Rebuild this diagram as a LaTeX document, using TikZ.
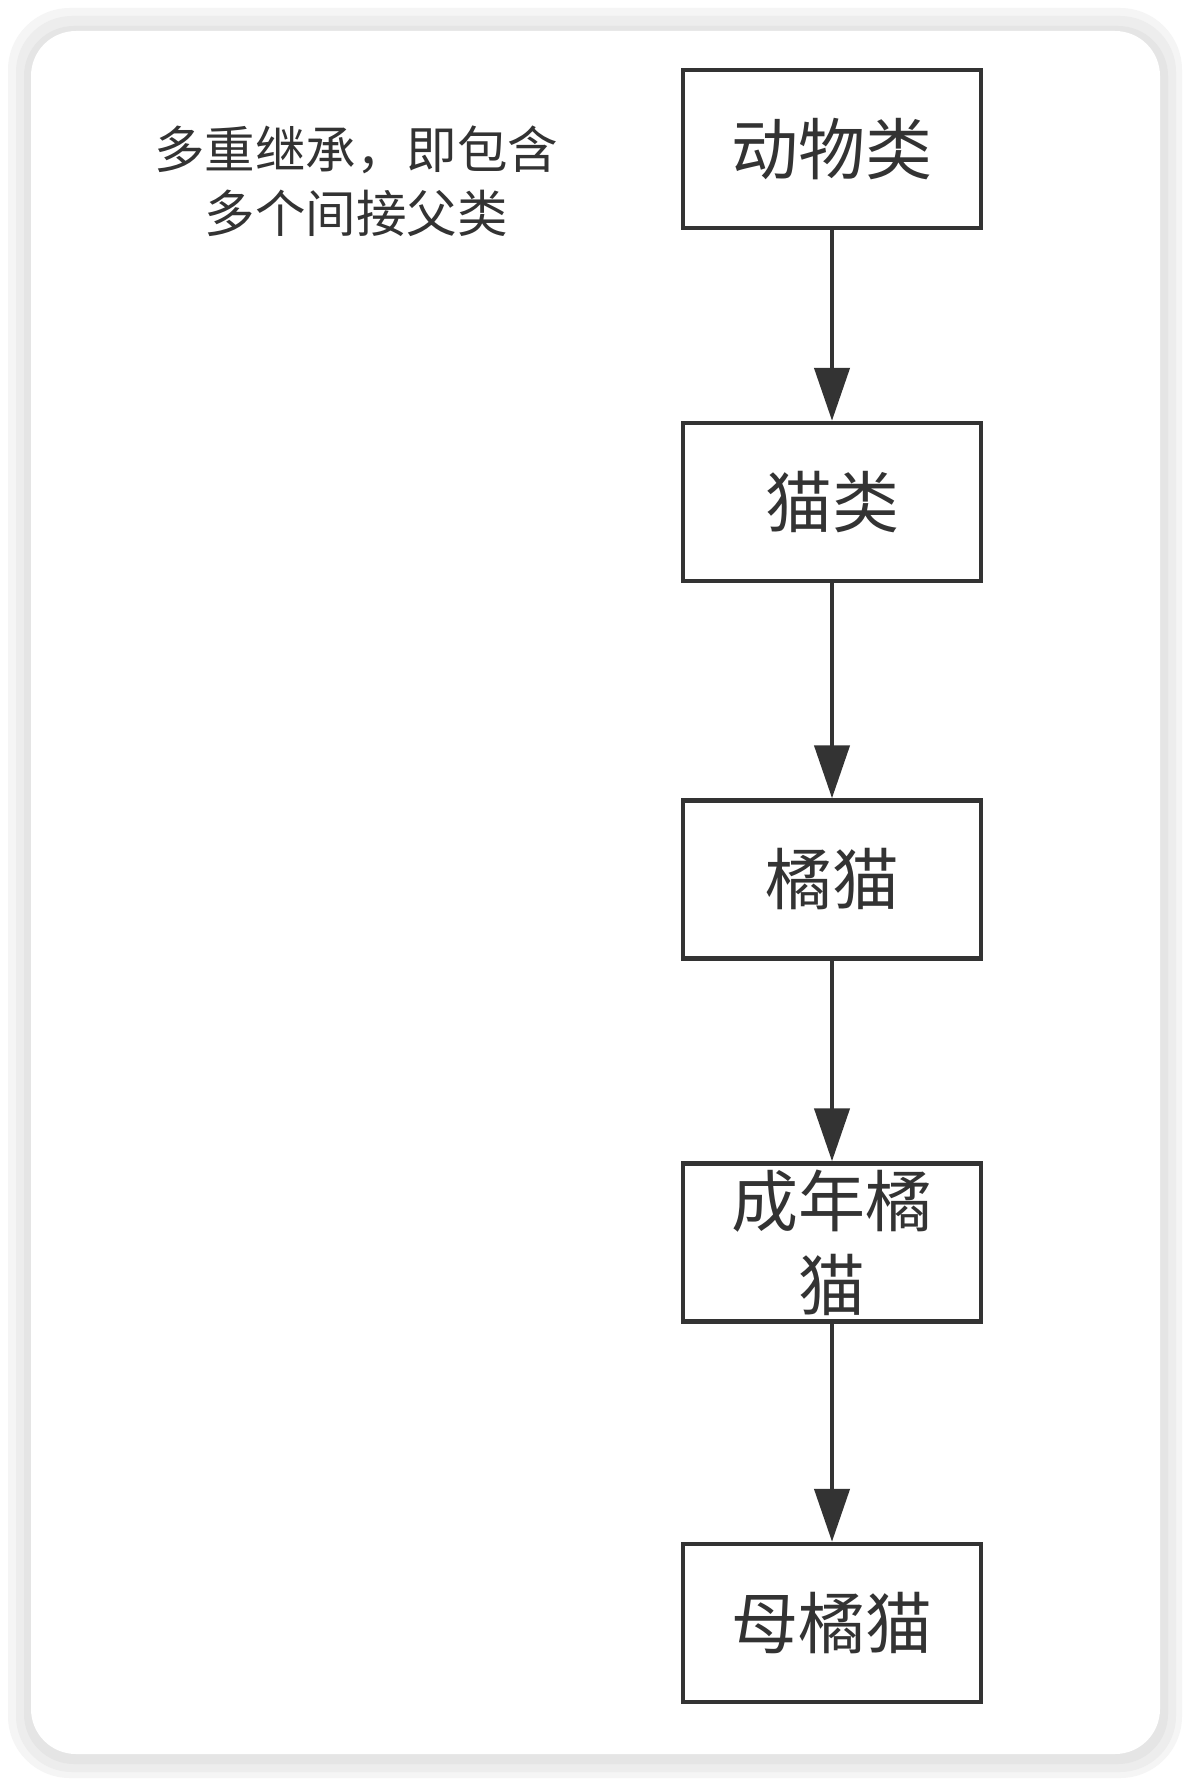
\documentclass[tikz,border=0pt]{standalone}
\usepackage{fontspec}
\newfontfamily\cjk{Noto Sans CJK SC}
\usetikzlibrary{arrows.meta}
\definecolor{ink}{HTML}{333333}
\tikzset{
  classbox/.style={draw=ink, line width=4.5pt, fill=white, minimum width=298pt, minimum height=158pt, inner sep=0pt, text=ink, font=\cjk\fontsize{67pt}{84pt}\selectfont, align=center},
  inherit/.style={draw=ink, line width=4.5pt, -{Triangle[length=53pt,width=35pt]}, fill=ink},
}
\begin{document}
\begin{tikzpicture}[x=1pt,y=-1pt]
\useasboundingbox (0,0) rectangle (1190,1784);
\fill[white] (0,0) rectangle (1190,1784);
% card shadow
\fill[black!4, rounded corners=62pt] (8,8) rectangle (1182,1778);
\fill[black!7, rounded corners=56pt] (16,16) rectangle (1176,1772);
\fill[black!10, rounded corners=50pt] (24,26) rectangle (1168,1764);
\fill[white, rounded corners=45pt] (31,31) rectangle (1160,1754);
% caption
\node[text=ink, font=\cjk\fontsize{50.5pt}{64pt}\selectfont, align=center] (cap) at (356,181) {多重继承，即包含\\多个间接父类};
% boxes
\node[classbox] (b1) at (832,149) {动物类};
\node[classbox] (b2) at (832,502) {猫类};
\node[classbox] (b3) at (832,879.5) {橘猫};
\node[classbox] (b4) at (832,1242.5) {成年橘\\猫};
\node[classbox] (b5) at (832,1623) {母橘猫};
% arrows
\draw[inherit] (b1.south) -- (b2.north);
\draw[inherit] (b2.south) -- (b3.north);
\draw[inherit] (b3.south) -- (b4.north);
\draw[inherit] (b4.south) -- (b5.north);
\end{tikzpicture}
\end{document}
